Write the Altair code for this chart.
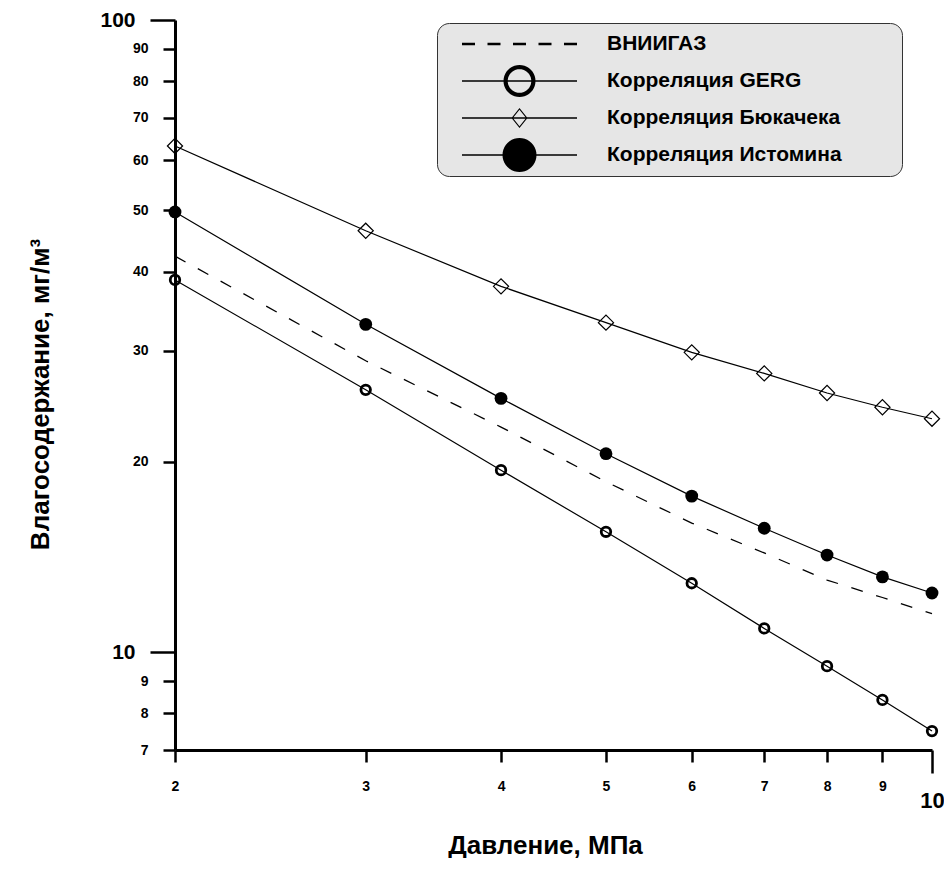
import math
import altair as alt
import pandas as pd

# ---------------- data ----------------
pressure = [2, 3, 4, 5, 6, 7, 8, 9, 10]
vniigaz = [42.3, 28.9, 22.7, 18.6, 16.0, 14.35, 13.0, 12.2, 11.5]
gerg = [38.8, 26.0, 19.4, 15.5, 12.85, 10.9, 9.5, 8.4, 7.5]
byukachek = [63.2, 46.4, 37.9, 33.2, 29.8, 27.6, 25.7, 24.4, 23.4]
istomin = [49.7, 33.0, 25.2, 20.6, 17.65, 15.7, 14.24, 13.15, 12.4]

series_names = ["ВНИИГАЗ", "Корреляция GERG", "Корреляция Бюкачека", "Корреляция Истомина"]
x_ticks = [2, 3, 4, 5, 6, 7, 8, 9, 10]
y_ticks = [7, 8, 9, 10, 20, 30, 40, 50, 60, 70, 80, 90, 100]

x_title = "Давление, МПа"
y_title = "Влагосодержание, мг/м³"

FONT = "Liberation Sans"

rows = []
for name, vals in zip(series_names, [vniigaz, gerg, byukachek, istomin]):
    for p, v in zip(pressure, vals):
        rows.append({"p": p, "w": v, "series": name})
df = pd.DataFrame(rows)

# ---------------- legend symbol paths (1 unit = 17 px, symbol size 34^2) ----------------
U = 17.0
HALF = 57.5 / U  # half width of the legend sample line


def f(v):
    return f"{v:.4f}"


def rect(x0, y0, x1, y1):
    return f"M{f(x0)},{f(y0)}L{f(x1)},{f(y0)}L{f(x1)},{f(y1)}L{f(x0)},{f(y1)}Z"


def circ(r, reverse=False, n=40):
    pts = []
    for i in range(n):
        t = 2 * math.pi * i / n
        if reverse:
            t = -t
        pts.append((r * math.cos(t), r * math.sin(t)))
    return "M" + "L".join(f"{f(x)},{f(y)}" for x, y in pts) + "Z"


def diam(w, h, reverse=False):
    pts = [(0, -h), (w, 0), (0, h), (-w, 0)]
    if reverse:
        pts = pts[::-1]
    return "M" + "L".join(f"{f(x)},{f(y)}" for x, y in pts) + "Z"


lw = 0.85 / U
extent = f"M{f(-HALF)},{f(-1)}M{f(378.5 / U)},{f(1)}"

dash_len = 13 / U
gap = (2 * HALF - 5 * dash_len) / 4
dash_path = "".join(
    rect(-HALF + i * (dash_len + gap), -1.25 / U, -HALF + i * (dash_len + gap) + dash_len, 1.25 / U)
    for i in range(5)
)
line_path = rect(-HALF, -lw, HALF, lw)

legend_paths = [
    dash_path + extent,
    line_path + circ(16 / U) + circ(11.8 / U, reverse=True) + extent,
    line_path + diam(8 / U, 10 / U) + diam(6.6 / U, 8.3 / U, reverse=True) + extent,
    line_path + circ(17 / U) + extent,
]

# ---------------- scales & axes ----------------
x_scale = alt.Scale(type="log", domain=[2, 10], nice=False)
y_scale = alt.Scale(type="log", domain=[7, 100], nice=False)

x_axis = alt.Axis(
    values=x_ticks, format="d", title=x_title, grid=False,
    domainColor="black", domainWidth=3,
    tickColor="black", tickWidth=2.5,
    tickSize={"condition": {"test": "datum.value == 10", "value": 23}, "value": 12},
    labelFont=FONT, labelFontWeight="bold", labelColor="black",
    labelFontSize={"condition": {"test": "datum.value == 10", "value": 22}, "value": 14},
    labelPadding=17, labelFlush=False, labelOverlap=False,
    titleFont=FONT, titleFontSize=26, titleFontWeight="bold", titleColor="black",
    titleX=370, titleY=95, titleBaseline="middle", titleAlign="center",
)

y_axis = alt.Axis(
    values=y_ticks, format="d", title=y_title, grid=False,
    domainColor="black", domainWidth=3,
    tickColor="black", tickWidth=2.5,
    tickSize={"condition": {"test": "datum.value == 10 || datum.value == 100", "value": 25}, "value": 12},
    labelFont=FONT, labelFontWeight="bold", labelColor="black",
    labelFontSize={"condition": {"test": "datum.value == 10 || datum.value == 100", "value": 21}, "value": 14},
    labelPadding=15, labelFlush=False, labelOverlap=False,
    titleFont=FONT, titleFontSize=26, titleFontWeight="bold", titleColor="black",
    titleX=-135, titleY=374, titleBaseline="middle", titleAlign="center", titleAngle=270,
)

base = alt.Chart(df).encode(
    x=alt.X("p:Q", scale=x_scale, axis=x_axis),
    y=alt.Y("w:Q", scale=y_scale, axis=y_axis),
)

solid = base.transform_filter("datum.series != 'ВНИИГАЗ'").mark_line(
    color="black", strokeWidth=1.2
).encode(detail="series:N")

dashed = base.transform_filter("datum.series == 'ВНИИГАЗ'").mark_line(
    color="black", strokeWidth=1.3, strokeDash=[12, 14]
)

pts_gerg = base.transform_filter("datum.series == 'Корреляция GERG'").mark_point(
    shape="circle", filled=False, color="black", strokeWidth=2.8, size=90, opacity=1
)
pts_byu = base.transform_filter("datum.series == 'Корреляция Бюкачека'").mark_point(
    shape="diamond", filled=False, color="black", strokeWidth=1.2, size=230, opacity=1
)
pts_ist = base.transform_filter("datum.series == 'Корреляция Истомина'").mark_point(
    shape="circle", filled=True, color="black", size=165, opacity=1
)

legend_layer = base.transform_filter("false").mark_point(
    filled=True, color="black", opacity=1, strokeWidth=0
).encode(
    shape=alt.Shape(
        "series:N",
        scale=alt.Scale(domain=series_names, range=legend_paths),
        legend=alt.Legend(
            orient="none", legendX=262, legendY=3, title=None,
            fillColor="#e6e6e6", strokeColor="#333333", cornerRadius=12,
            padding=4, symbolSize=1156, symbolOffset=61.5,
            symbolStrokeWidth=0, symbolFillColor="black",
            labelFont=FONT, labelFontSize=21, labelFontWeight="bold",
            labelColor="black", labelOffset=70.5, labelLimit=600,
            rowPadding=3, direction="vertical",
        ),
    )
)

chart = alt.layer(solid, dashed, pts_gerg, pts_byu, pts_ist, legend_layer).properties(
    width=757, height=730,
    autosize=alt.AutoSizeParams(type="none"),
    padding={"left": 167, "top": 12, "right": 12, "bottom": 108},
    background="white",
).configure_view(strokeOpacity=0)

chart.save("out.html", embed_options={"renderer": "svg", "actions": False})
